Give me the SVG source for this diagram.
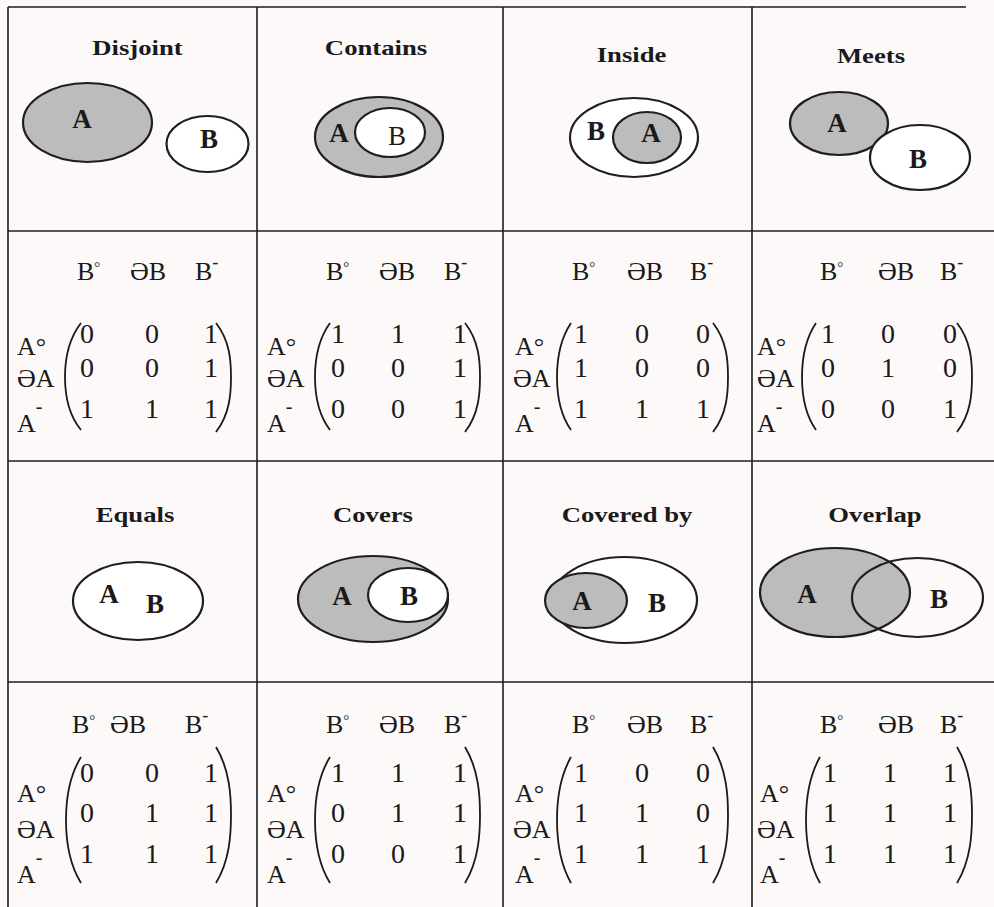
<svg xmlns="http://www.w3.org/2000/svg" width="994" height="907" viewBox="0 0 994 907">
<defs>
<style>
.grid{stroke:#1c1c1c;stroke-width:1.6;fill:none}
.sh{fill:#bcbcbc;stroke:#1e1e1e;stroke-width:2.2}
.wh{fill:#ffffff;stroke:#1e1e1e;stroke-width:2.2}
.no{fill:none;stroke:#1e1e1e;stroke-width:2.2}
.title{font-family:"Liberation Serif",serif;font-weight:bold;font-size:21px;fill:#1a1a1a;text-anchor:middle}
.lb{font-family:"Liberation Serif",serif;font-weight:bold;font-size:27px;fill:#1a1a1a;text-anchor:middle}
.lr{font-family:"Liberation Serif",serif;font-size:27px;fill:#1a1a1a;text-anchor:middle}
.m{font-family:"Liberation Serif",serif;font-size:26px;fill:#1a1a1a}
.d{font-family:"Liberation Serif",serif;font-size:28px;fill:#1a1a1a;text-anchor:middle}
.par{fill:none;stroke:#1a1a1a;stroke-width:1.8}
</style>
</defs>
<rect x="0" y="0" width="994" height="907" fill="#fdf9f9"/>

<g id="grid">
<line class="grid" x1="8" y1="7" x2="966" y2="7"/>
<line class="grid" x1="8" y1="231" x2="994" y2="231"/>
<line class="grid" x1="8" y1="461" x2="994" y2="461"/>
<line class="grid" x1="8" y1="682" x2="994" y2="682"/>
<line class="grid" x1="8" y1="7" x2="8" y2="907"/>
<line class="grid" x1="257" y1="7" x2="257" y2="907"/>
<line class="grid" x1="503" y1="7" x2="503" y2="907"/>
<line class="grid" x1="752" y1="7" x2="752" y2="907"/>
</g>

<!-- Row 1 figures -->
<g id="disjoint">
<text class="title" transform="translate(137.5,55) scale(1.27,1)">Disjoint</text>
<ellipse class="sh" cx="87.5" cy="122.5" rx="64.5" ry="39.5"/>
<text class="lb" x="82" y="128">A</text>
<ellipse class="wh" cx="207.5" cy="144" rx="41" ry="28"/>
<text class="lb" x="209" y="148">B</text>
</g>

<g id="contains">
<text class="title" transform="translate(376,55) scale(1.27,1)">Contains</text>
<ellipse class="sh" cx="379" cy="137" rx="64" ry="40"/>
<ellipse class="wh" cx="390" cy="132.5" rx="35" ry="24.5"/>
<text class="lb" x="339" y="142">A</text>
<text class="lr" x="397" y="145">B</text>
</g>

<g id="inside">
<text class="title" transform="translate(631.5,62) scale(1.27,1)">Inside</text>
<ellipse class="wh" cx="634" cy="137.5" rx="64" ry="39.5"/>
<ellipse class="sh" cx="647" cy="137.5" rx="34" ry="25.5"/>
<text class="lb" x="596" y="140">B</text>
<text class="lb" x="651" y="142">A</text>
</g>

<g id="meets">
<text class="title" transform="translate(871,63) scale(1.27,1)">Meets</text>
<ellipse class="sh" cx="839" cy="123.5" rx="49" ry="31.5"/>
<ellipse class="wh" cx="920" cy="157.5" rx="50" ry="32.5"/>
<text class="lb" x="837" y="132">A</text>
<text class="lb" x="918" y="168">B</text>
</g>

<!-- Row 3 figures -->
<g id="equals">
<text class="title" transform="translate(135,522) scale(1.27,1)">Equals</text>
<ellipse class="wh" cx="138" cy="601" rx="65" ry="39"/>
<text class="lb" x="109" y="603">A</text>
<text class="lb" x="155" y="613">B</text>
</g>

<g id="covers">
<text class="title" transform="translate(373,522) scale(1.27,1)">Covers</text>
<ellipse class="sh" cx="373" cy="599" rx="75" ry="43"/>
<ellipse class="wh" cx="408" cy="595" rx="40" ry="27"/>
<text class="lb" x="342" y="605">A</text>
<text class="lb" x="409" y="605">B</text>
</g>

<g id="coveredby">
<text class="title" transform="translate(627,522) scale(1.27,1)">Covered by</text>
<ellipse class="wh" cx="624.5" cy="600" rx="72.5" ry="43"/>
<ellipse class="sh" cx="586" cy="600.5" rx="41" ry="27.5"/>
<text class="lb" x="582" y="610">A</text>
<text class="lb" x="657" y="612">B</text>
</g>

<g id="overlap">
<text class="title" transform="translate(875,522) scale(1.27,1)">Overlap</text>
<ellipse class="sh" cx="835" cy="592.5" rx="75" ry="44.5"/>
<ellipse class="no" cx="917.5" cy="597.5" rx="65.5" ry="39.5"/>
<text class="lb" x="807" y="603">A</text>
<text class="lb" x="939" y="608">B</text>
</g>

<!-- Row 2 matrices -->
<g id="m-disjoint" transform="translate(8,231)">
<text class="m" x="69" y="49">B<tspan font-size="15" dy="-8">°</tspan></text>
<text class="m" x="122" y="49">ƏB</text>
<text class="m" x="187" y="49">B<tspan font-size="18" dy="-12">-</tspan></text>
<text class="m" x="9" y="124">A°</text>
<text class="m" x="9" y="156">ƏA</text>
<text class="m" x="9" y="201">A<tspan font-size="20" dy="-19">-</tspan></text>
<path class="par" d="M73,92 C59,110 57,130 57,146 C57,162 59,182 73,199"/>
<path class="par" d="M208,92 C222,110 223,130 223,146 C223,162 222,183 208,201"/>
<text class="d" x="79" y="112">0</text><text class="d" x="144" y="112">0</text><text class="d" x="203" y="112">1</text>
<text class="d" x="79" y="146">0</text><text class="d" x="144" y="146">0</text><text class="d" x="203" y="146">1</text>
<text class="d" x="79" y="187">1</text><text class="d" x="144" y="187">1</text><text class="d" x="203" y="187">1</text>
</g>

<g id="m-contains" transform="translate(257,231)">
<text class="m" x="69" y="49">B<tspan font-size="15" dy="-8">°</tspan></text>
<text class="m" x="122" y="49">ƏB</text>
<text class="m" x="187" y="49">B<tspan font-size="18" dy="-12">-</tspan></text>
<text class="m" x="10" y="124">A°</text>
<text class="m" x="10" y="156">ƏA</text>
<text class="m" x="10" y="201">A<tspan font-size="20" dy="-19">-</tspan></text>
<path class="par" d="M73,92 C60,110 58,130 58,146 C58,162 60,182 73,199"/>
<path class="par" d="M208,92 C222,110 223,130 223,146 C223,162 222,183 208,201"/>
<text class="d" x="81" y="112">1</text><text class="d" x="141" y="112">1</text><text class="d" x="203" y="112">1</text>
<text class="d" x="81" y="146">0</text><text class="d" x="141" y="146">0</text><text class="d" x="203" y="146">1</text>
<text class="d" x="81" y="187">0</text><text class="d" x="141" y="187">0</text><text class="d" x="203" y="187">1</text>
</g>

<g id="m-inside" transform="translate(503,231)">
<text class="m" x="69" y="49">B<tspan font-size="15" dy="-8">°</tspan></text>
<text class="m" x="124" y="49">ƏB</text>
<text class="m" x="187" y="49">B<tspan font-size="18" dy="-12">-</tspan></text>
<text class="m" x="12" y="124">A°</text>
<text class="m" x="10" y="156">ƏA</text>
<text class="m" x="12" y="201">A<tspan font-size="20" dy="-19">-</tspan></text>
<path class="par" d="M68,92 C56,110 54,130 54,146 C54,162 56,182 68,199"/>
<path class="par" d="M210,92 C224,110 225,130 225,146 C225,162 224,183 210,201"/>
<text class="d" x="78" y="112">1</text><text class="d" x="139" y="112">0</text><text class="d" x="200" y="112">0</text>
<text class="d" x="78" y="146">1</text><text class="d" x="139" y="146">0</text><text class="d" x="200" y="146">0</text>
<text class="d" x="78" y="187">1</text><text class="d" x="139" y="187">1</text><text class="d" x="200" y="187">1</text>
</g>

<g id="m-meets" transform="translate(752,231)">
<text class="m" x="68" y="49">B<tspan font-size="15" dy="-8">°</tspan></text>
<text class="m" x="126" y="49">ƏB</text>
<text class="m" x="188" y="49">B<tspan font-size="18" dy="-12">-</tspan></text>
<text class="m" x="5" y="124">A°</text>
<text class="m" x="5" y="156">ƏA</text>
<text class="m" x="5" y="201">A<tspan font-size="20" dy="-19">-</tspan></text>
<path class="par" d="M64,92 C52,110 50,130 50,146 C50,162 52,182 64,199"/>
<path class="par" d="M205,92 C219,110 220,130 220,146 C220,162 219,183 205,201"/>
<text class="d" x="76" y="112">1</text><text class="d" x="136" y="112">0</text><text class="d" x="198" y="112">0</text>
<text class="d" x="76" y="146">0</text><text class="d" x="136" y="146">1</text><text class="d" x="198" y="146">0</text>
<text class="d" x="76" y="187">0</text><text class="d" x="136" y="187">0</text><text class="d" x="198" y="187">1</text>
</g>

<!-- Row 4 matrices -->
<g id="m-equals" transform="translate(8,682)">
<text class="m" x="64" y="51">B<tspan font-size="15" dy="-8">°</tspan></text>
<text class="m" x="102" y="51">ƏB</text>
<text class="m" x="177" y="51">B<tspan font-size="18" dy="-12">-</tspan></text>
<text class="m" x="9" y="120">A°</text>
<text class="m" x="9" y="156">ƏA</text>
<text class="m" x="9" y="201">A<tspan font-size="20" dy="-19">-</tspan></text>
<path class="par" d="M73,75 C60,96 58,120 58,138 C58,156 60,180 73,201"/>
<path class="par" d="M208,65 C222,88 223,115 223,133 C223,151 222,178 208,201"/>
<text class="d" x="79" y="100">0</text><text class="d" x="144" y="100">0</text><text class="d" x="203" y="100">1</text>
<text class="d" x="79" y="140">0</text><text class="d" x="144" y="140">1</text><text class="d" x="203" y="140">1</text>
<text class="d" x="79" y="181">1</text><text class="d" x="144" y="181">1</text><text class="d" x="203" y="181">1</text>
</g>

<g id="m-covers" transform="translate(257,682)">
<text class="m" x="69" y="51">B<tspan font-size="15" dy="-8">°</tspan></text>
<text class="m" x="122" y="51">ƏB</text>
<text class="m" x="187" y="51">B<tspan font-size="18" dy="-12">-</tspan></text>
<text class="m" x="10" y="120">A°</text>
<text class="m" x="10" y="156">ƏA</text>
<text class="m" x="10" y="201">A<tspan font-size="20" dy="-19">-</tspan></text>
<path class="par" d="M73,75 C60,96 58,120 58,138 C58,156 60,180 73,201"/>
<path class="par" d="M208,65 C222,88 223,115 223,133 C223,151 222,178 208,201"/>
<text class="d" x="81" y="100">1</text><text class="d" x="141" y="100">1</text><text class="d" x="203" y="100">1</text>
<text class="d" x="81" y="140">0</text><text class="d" x="141" y="140">1</text><text class="d" x="203" y="140">1</text>
<text class="d" x="81" y="181">0</text><text class="d" x="141" y="181">0</text><text class="d" x="203" y="181">1</text>
</g>

<g id="m-coveredby" transform="translate(503,682)">
<text class="m" x="69" y="51">B<tspan font-size="15" dy="-8">°</tspan></text>
<text class="m" x="124" y="51">ƏB</text>
<text class="m" x="187" y="51">B<tspan font-size="18" dy="-12">-</tspan></text>
<text class="m" x="12" y="120">A°</text>
<text class="m" x="10" y="156">ƏA</text>
<text class="m" x="12" y="201">A<tspan font-size="20" dy="-19">-</tspan></text>
<path class="par" d="M68,75 C56,96 54,120 54,138 C54,156 56,180 68,201"/>
<path class="par" d="M210,65 C224,88 225,115 225,133 C225,151 224,178 210,201"/>
<text class="d" x="78" y="100">1</text><text class="d" x="139" y="100">0</text><text class="d" x="200" y="100">0</text>
<text class="d" x="78" y="140">1</text><text class="d" x="139" y="140">1</text><text class="d" x="200" y="140">0</text>
<text class="d" x="78" y="181">1</text><text class="d" x="139" y="181">1</text><text class="d" x="200" y="181">1</text>
</g>

<g id="m-overlap" transform="translate(752,682)">
<text class="m" x="68" y="51">B<tspan font-size="15" dy="-8">°</tspan></text>
<text class="m" x="126" y="51">ƏB</text>
<text class="m" x="188" y="51">B<tspan font-size="18" dy="-12">-</tspan></text>
<text class="m" x="8" y="120">A°</text>
<text class="m" x="5" y="156">ƏA</text>
<text class="m" x="8" y="201">A<tspan font-size="20" dy="-19">-</tspan></text>
<path class="par" d="M68,75 C56,96 54,120 54,138 C54,156 56,180 68,201"/>
<path class="par" d="M205,65 C219,88 220,115 220,133 C220,151 219,178 205,201"/>
<text class="d" x="78" y="100">1</text><text class="d" x="138" y="100">1</text><text class="d" x="198" y="100">1</text>
<text class="d" x="78" y="140">1</text><text class="d" x="138" y="140">1</text><text class="d" x="198" y="140">1</text>
<text class="d" x="78" y="181">1</text><text class="d" x="138" y="181">1</text><text class="d" x="198" y="181">1</text>
</g>
</svg>
